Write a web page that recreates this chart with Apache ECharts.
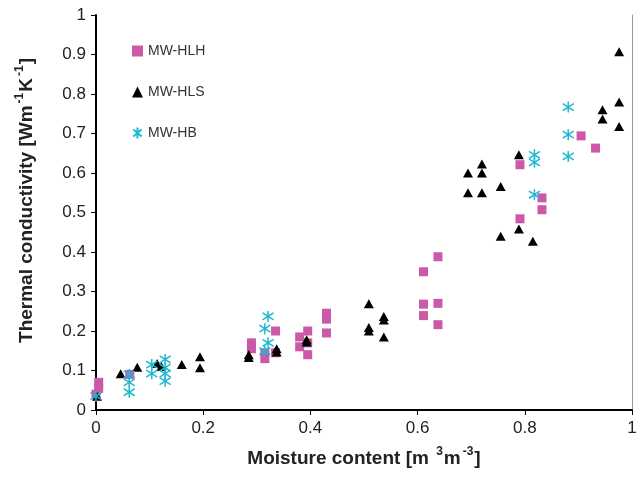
<!DOCTYPE html>
<html><head><meta charset="utf-8">
<script src="https://cdn.jsdelivr.net/npm/echarts@6/dist/echarts.min.js"></script>
<style>html,body{margin:0;padding:0;background:#fff}#c{width:640px;height:486px}</style>
</head><body><div id="c"></div>
<script>
const seriesNames = ['MW-HLH', 'MW-HLS', 'MW-HB'];
const hlh = [
  [0.005,0.07],[0.005,0.055],[0.0,0.04],[0.063,0.09],
  [0.29,0.17],[0.29,0.155],[0.315,0.145],[0.315,0.13],[0.335,0.2],[0.335,0.145],
  [0.38,0.185],[0.38,0.16],[0.395,0.2],[0.395,0.17],[0.395,0.14],
  [0.43,0.245],[0.43,0.23],[0.43,0.195],
  [0.611,0.35],[0.638,0.388],[0.611,0.268],[0.638,0.27],[0.611,0.239],[0.638,0.216],
  [0.791,0.621],[0.832,0.537],[0.832,0.507],[0.791,0.484],
  [0.905,0.694],[0.932,0.663]
];
const hls = [
  [0.002,0.035],[0.046,0.092],[0.077,0.108],[0.114,0.118],[0.122,0.11],[0.16,0.115],[0.194,0.135],[0.194,0.107],
  [0.285,0.14],[0.285,0.133],[0.337,0.155],[0.337,0.147],[0.393,0.178],[0.393,0.172],
  [0.509,0.269],[0.509,0.209],[0.509,0.2],[0.537,0.237],[0.537,0.228],[0.537,0.185],
  [0.694,0.6],[0.694,0.55],[0.72,0.623],[0.72,0.6],[0.72,0.55],[0.755,0.566],[0.755,0.44],
  [0.789,0.646],[0.789,0.458],[0.815,0.427],
  [0.976,0.907],[0.976,0.78],[0.945,0.76],[0.945,0.737],[0.976,0.718]
];
const hb = [
  [0.0,0.035],[0.062,0.09],[0.062,0.07],[0.062,0.045],
  [0.104,0.115],[0.104,0.092],[0.129,0.128],[0.129,0.107],[0.129,0.092],[0.129,0.073],
  [0.321,0.237],[0.315,0.206],[0.321,0.17],[0.315,0.149],
  [0.818,0.646],[0.818,0.627],[0.818,0.545],
  [0.881,0.767],[0.881,0.697],[0.881,0.642]
];
const xTicks = [0, 0.2, 0.4, 0.6, 0.8, 1];
const yTicks = [0, 0.1, 0.2, 0.3, 0.4, 0.5, 0.6, 0.7, 0.8, 0.9, 1];

const chart = echarts.init(document.getElementById('c'), null, {renderer: 'canvas'});
const font = 'Liberation Sans, Arial, sans-serif';
const tickFmt = v => (Math.abs(v) < 1e-9 ? '0' : (Math.abs(v - 1) < 1e-9 ? '1' : String(+v.toFixed(1))));
const star = 'path://M5,0L5,10M1.2,1.8L8.8,8.2M1.2,8.2L8.8,1.8';
const titleRich = {
  b: {fontSize: 19, fontWeight: 'bold', color: '#222', fontFamily: font, lineHeight: 22, verticalAlign: 'bottom'},
  s: {fontSize: 12, fontWeight: 'bold', color: '#222', fontFamily: font, lineHeight: 22, verticalAlign: 'top', padding: [0, 1, 9, 2]}
};
chart.setOption({
  animation: false,
  backgroundColor: '#fff',
  textStyle: {fontFamily: font},
  grid: {left: 96, right: 8, top: 15, bottom: 76},
  legend: {
    orient: 'vertical', left: 127, top: 39, itemGap: 27, itemWidth: 11, itemHeight: 11,
    textStyle: {fontSize: 14, color: '#333', fontFamily: font},
    data: seriesNames
  },
  xAxis: {
    type: 'value', min: xTicks[0], max: xTicks[xTicks.length - 1], interval: 0.2,
    axisLine: {lineStyle: {color: '#000', width: 2}},
    axisTick: {show: true, length: 5, lineStyle: {color: '#000', width: 1}},
    axisLabel: {fontSize: 17, color: '#222', margin: 10, formatter: tickFmt},
    splitLine: {show: false},
    name: '{b|Moisture content [m }{s|3}{b|m}{s|-3}{b|]}',
    nameLocation: 'middle', nameGap: 36,
    nameTextStyle: {rich: titleRich}
  },
  yAxis: [{
    type: 'value', min: yTicks[0], max: yTicks[yTicks.length - 1], interval: 0.1,
    axisLine: {show: true, lineStyle: {color: '#000', width: 2}},
    axisTick: {show: true, length: 5, lineStyle: {color: '#000', width: 1}},
    axisLabel: {fontSize: 17, color: '#222', margin: 10, formatter: tickFmt},
    splitLine: {show: false},
    name: '{b|Thermal conductivity [Wm}{s|-1}{b|K}{s|-1}{b|]}',
    nameLocation: 'middle', nameGap: 60, nameRotate: 90,
    nameTextStyle: {rich: titleRich, padding: [0, 0, 0, 24]}
  }, {
    type: 'value', position: 'right', min: 0, max: 1,
    axisLine: {show: true, lineStyle: {color: '#999', width: 1}},
    axisTick: {show: false}, axisLabel: {show: false}, splitLine: {show: false}
  }],
  series: [
    {name: seriesNames[0], type: 'scatter', data: hlh, symbol: 'rect', symbolSize: 9,
     itemStyle: {color: '#cc58a8', opacity: 1}, z: 2},
    {name: seriesNames[1], type: 'scatter', data: hls, symbol: 'triangle', symbolSize: [10, 9],
     itemStyle: {color: '#000', opacity: 1}, z: 3},
    {name: seriesNames[2], type: 'scatter', data: hb, symbol: star, symbolSize: 11,
     itemStyle: {color: 'rgba(0,0,0,0)', borderColor: '#1fb8d0', borderWidth: 1.5, opacity: 1}, z: 4}
  ]
});
</script></body></html>
